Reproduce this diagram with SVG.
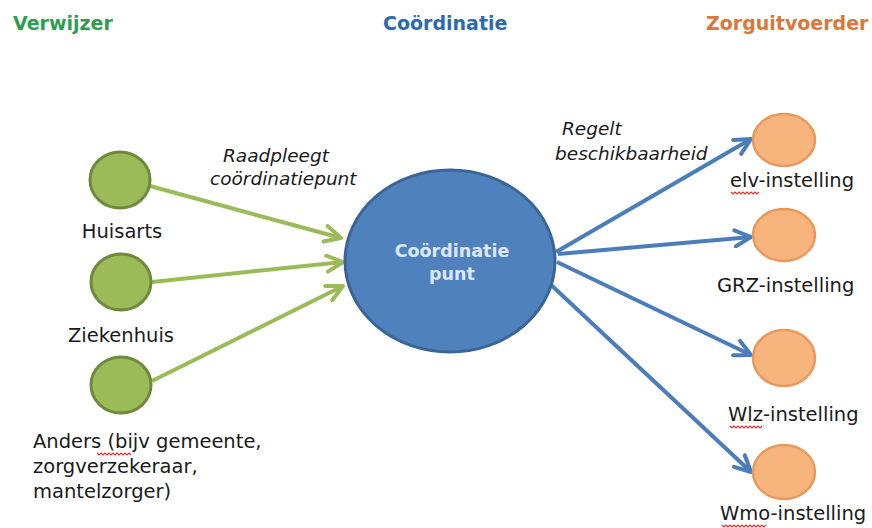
<svg xmlns="http://www.w3.org/2000/svg" width="872" height="528" viewBox="0 0 872 528">
<style>
.hdr{font-family:"DejaVu Sans","Liberation Sans",sans-serif;font-weight:bold;font-size:19px}
.lbl{font-family:"DejaVu Sans","Liberation Sans",sans-serif;font-size:19.5px;fill:#1a1a1a}
.ital{font-family:"DejaVu Sans","Liberation Sans",sans-serif;font-style:italic;font-size:18.5px;fill:#1a1a1a}
.ctr{font-family:"DejaVu Sans","Liberation Sans",sans-serif;font-weight:bold;font-size:17.5px;fill:#dbe7f4}
.g{fill:#9bbb59;stroke:#70893d;stroke-width:3}
.o{fill:#f8b47d;stroke:#e8995b;stroke-width:2.5}
.b{fill:#4f81bd;stroke:#3a6596;stroke-width:3}
.gl{stroke:#9bbb59;stroke-width:4;fill:none;marker-end:url(#ag)}
.bl{stroke:#4a7dba;stroke-width:4;fill:none;marker-end:url(#ab)}
.sq{stroke:#e03030;stroke-width:1.2;fill:none}
</style>
<defs>
<marker id="ag" viewBox="0 0 10 10" markerWidth="5" markerHeight="5" refX="9" refY="5" orient="auto" markerUnits="strokeWidth">
<path d="M1,1 L9,5 L1,9" fill="none" stroke="#9bbb59" stroke-width="2" stroke-linecap="round" stroke-linejoin="round"/>
</marker>
<marker id="ab" viewBox="0 0 10 10" markerWidth="5" markerHeight="5" refX="9" refY="5" orient="auto" markerUnits="strokeWidth">
<path d="M1,1 L9,5 L1,9" fill="none" stroke="#4a7dba" stroke-width="2" stroke-linecap="round" stroke-linejoin="round"/>
</marker>
</defs>
<rect width="872" height="528" fill="#ffffff"/>

<g id="headers">
<text class="hdr" x="13" y="30" fill="#2f9c50">Verwijzer</text>
<text class="hdr" x="383" y="30" fill="#2c6aab">Coördinatie</text>
<text class="hdr" x="706" y="30" fill="#d9783a">Zorguitvoerder</text>
</g>

<g id="connectors">
<line class="gl" x1="150" y1="186" x2="341" y2="238"/>
<line class="gl" x1="152" y1="282" x2="343" y2="262"/>
<line class="gl" x1="152" y1="381" x2="343" y2="286"/>
<line class="bl" x1="556" y1="252" x2="751" y2="139"/>
<line class="bl" x1="558" y1="254" x2="751" y2="237"/>
<line class="bl" x1="557" y1="262" x2="751" y2="355"/>
<line class="bl" x1="549" y1="283" x2="751" y2="472"/>
<text class="ital" x="223" y="162">Raadpleegt</text>
<text class="ital" x="210" y="185">coördinatiepunt</text>
<text class="ital" x="562" y="135">Regelt</text>
<text class="ital" x="555" y="160">beschikbaarheid</text>
</g>

<g id="huisarts">
<ellipse class="g" cx="120" cy="180" rx="30" ry="28"/>
<text class="lbl" x="122" y="238" text-anchor="middle">Huisarts</text>
</g>
<g id="ziekenhuis">
<ellipse class="g" cx="121" cy="282" rx="30" ry="28"/>
<text class="lbl" x="121" y="342" text-anchor="middle">Ziekenhuis</text>
</g>
<g id="anders">
<ellipse class="g" cx="121" cy="385" rx="30" ry="28"/>
<text class="lbl" x="33" y="448">Anders (bijv gemeente,</text>
<text class="lbl" x="33" y="473">zorgverzekeraar,</text>
<text class="lbl" x="33" y="498">mantelzorger)</text>
<path class="sq" d="M97,453 l2,2 l2,-2 l2,2 l2,-2 l2,2 l2,-2 l2,2 l2,-2 l2,2 l2,-2 l2,2 l2,-2 l2,2 l2,-2 l2,2 l2,-2 l2,2"/>
</g>

<g id="coordinatiepunt">
<ellipse class="b" cx="450" cy="261" rx="105" ry="91"/>
<text class="ctr" x="452" y="257" text-anchor="middle">Coördinatie</text>
<text class="ctr" x="452" y="280" text-anchor="middle">punt</text>
</g>

<g id="elv">
<ellipse class="o" cx="784" cy="140" rx="31" ry="26"/>
<text class="lbl" x="730" y="187">elv-instelling</text>
<path class="sq" d="M731,192 l2,2 l2,-2 l2,2 l2,-2 l2,2 l2,-2 l2,2 l2,-2 l2,2 l2,-2 l2,2 l2,-2 l2,2 l2,-2"/>
</g>
<g id="grz">
<ellipse class="o" cx="784" cy="235" rx="31" ry="26"/>
<text class="lbl" x="717" y="292">GRZ-instelling</text>
</g>
<g id="wlz">
<ellipse class="o" cx="784" cy="358" rx="31" ry="28"/>
<text class="lbl" x="728" y="421">Wlz-instelling</text>
<path class="sq" d="M730,426 l2,2 l2,-2 l2,2 l2,-2 l2,2 l2,-2 l2,2 l2,-2 l2,2 l2,-2 l2,2 l2,-2 l2,2 l2,-2 l2,2 l2,-2"/>
</g>
<g id="wmo">
<ellipse class="o" cx="784" cy="472" rx="31" ry="27"/>
<text class="lbl" x="720" y="520">Wmo-instelling</text>
<path class="sq" d="M722,525 l2,2 l2,-2 l2,2 l2,-2 l2,2 l2,-2 l2,2 l2,-2 l2,2 l2,-2 l2,2 l2,-2 l2,2 l2,-2 l2,2 l2,-2 l2,2 l2,-2 l2,2 l2,-2 l2,2 l2,-2"/>
</g>
</svg>
